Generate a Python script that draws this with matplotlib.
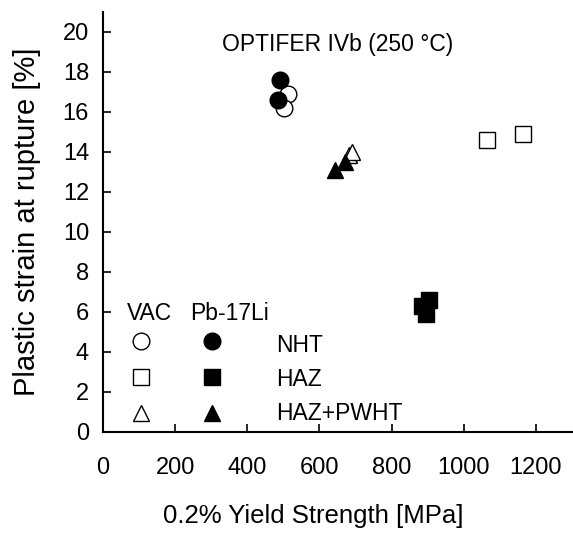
import matplotlib.pyplot as plt

plt.rcParams['font.family'] = ['Liberation Sans', 'DejaVu Sans']

# NHT
nht_vac_x = [514, 503]
nht_vac_y = [16.9, 16.2]
nht_pb_x = [492, 486]
nht_pb_y = [17.6, 16.6]
# HAZ
haz_vac_x = [1065, 1165]
haz_vac_y = [14.6, 14.9]
haz_pb_x = [885, 905, 895]
haz_pb_y = [6.3, 6.6, 5.9]
# HAZ+PWHT
pwht_vac_x = [682, 690]
pwht_vac_y = [13.85, 14.0]
pwht_pb_x = [644, 670]
pwht_pb_y = [13.1, 13.5]

fig = plt.figure(figsize=(5.73, 5.34), dpi=100)
ax = fig.add_axes([103 / 573, 102 / 534, 469 / 573, 420 / 534])

ms = 12
kw_open = dict(ls='none', mfc='white', mec='black', mew=1.0, ms=ms)
kw_fill = dict(ls='none', mfc='black', mec='black', mew=1.0, ms=ms)

ax.plot(nht_vac_x, nht_vac_y, 'o', **kw_open)
ax.plot(nht_pb_x, nht_pb_y, 'o', **kw_fill)
ax.plot(haz_vac_x, haz_vac_y, 's', **kw_open)
ax.plot(haz_pb_x, haz_pb_y, 's', **kw_fill)
ax.plot(pwht_vac_x, pwht_vac_y, '^', **kw_open)
ax.plot(pwht_pb_x, pwht_pb_y, '^', **kw_fill)

# hand-made legend
ax.text(67, 5.95, 'VAC', fontsize=16.5, ha='left', va='center')
ax.text(242, 5.95, 'Pb-17Li', fontsize=16.5, ha='left', va='center')
rows = [('o', 'NHT', 4.55, 4.35), ('s', 'HAZ', 2.75, 2.6), ('^', 'HAZ+PWHT', 0.95, 0.95)]
for m, lab, yy, ty in rows:
    ax.plot([105], [yy], m, **kw_open)
    ax.plot([303], [yy], m, **kw_fill)
    ax.text(480, ty, lab, fontsize=16.5, ha='left', va='center')

ax.text(650, 19.35, 'OPTIFER IVb (250 °C)', fontsize=16.5, ha='center', va='center')

ax.set_xlim(0, 1300)
ax.set_ylim(0, 21)
ax.set_xticks(range(0, 1201, 200))
ax.set_yticks(range(0, 21, 2))
ax.tick_params(direction='in', labelsize=17, length=6, width=1.2)
ax.tick_params(axis='x', pad=18)
ax.tick_params(axis='y', pad=10)
ax.spines['top'].set_visible(False)
ax.spines['right'].set_visible(False)
for s in ('left', 'bottom'):
    ax.spines[s].set_linewidth(1.5)

ax.set_xlabel('0.2% Yield Strength [MPa]', fontsize=18.5)
ax.xaxis.set_label_coords(0.448, -0.172)
ax.set_ylabel('Plastic strain at rupture [%]', fontsize=21)
ax.yaxis.set_label_coords(-0.132, 0.5)

fig.savefig('out.png', dpi=100)
